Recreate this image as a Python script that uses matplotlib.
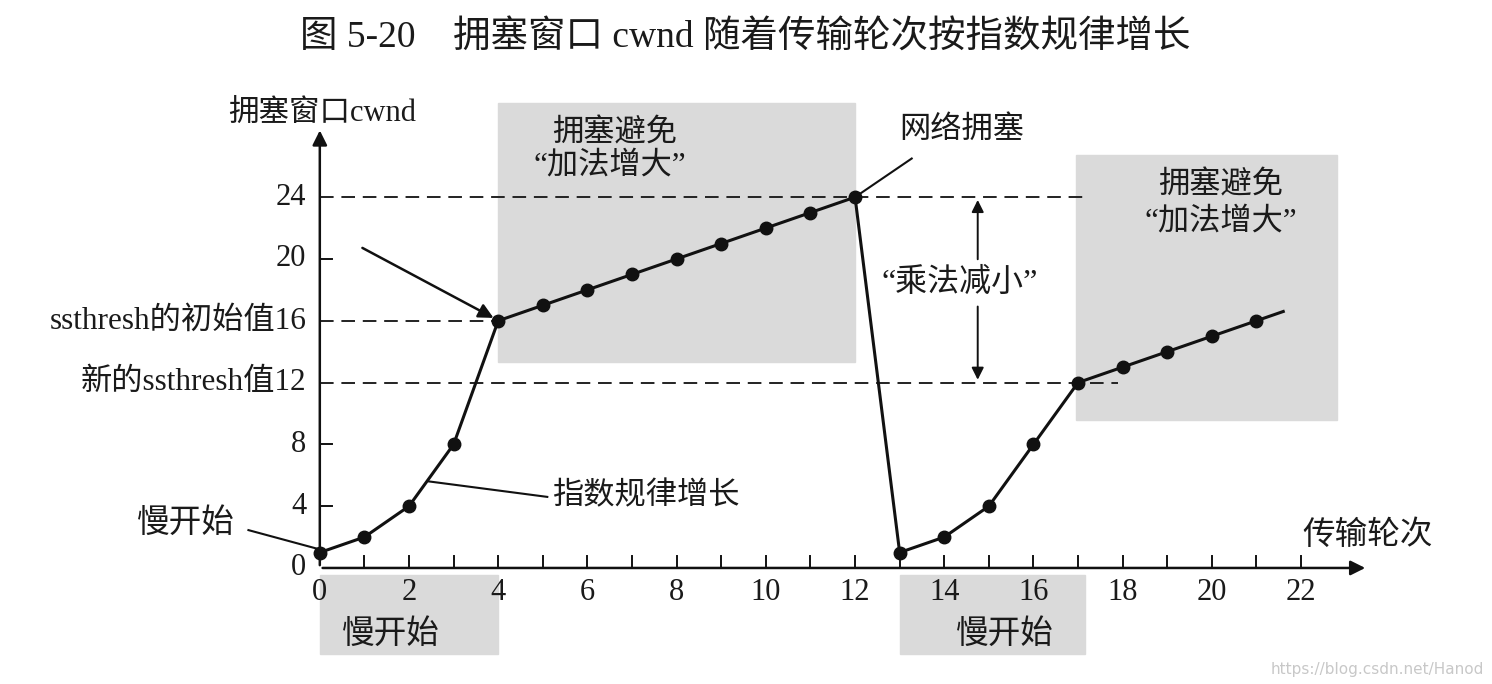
import numpy as np
import matplotlib
matplotlib.use("Agg")
import matplotlib.pyplot as plt

plt.rcParams['font.family'] = ['Liberation Serif', 'Noto Sans CJK SC', 'DejaVu Sans']
plt.rcParams['text.color'] = "#1a1a1a"

# transmission rounds and cwnd values
rounds_1 = [0, 1, 2, 3, 4, 5, 6, 7, 8, 9, 10, 11, 12]
cwnd_1 = [1, 2, 4, 8, 16, 17, 18, 19, 20, 21, 22, 23, 24]
rounds_2 = [13, 14, 15, 16, 17, 18, 19, 20, 21]
cwnd_2 = [1, 2, 4, 8, 12, 13, 14, 15, 16]
tail_x, tail_y = 21.6, 16.6

x_ticks = [0, 2, 4, 6, 8, 10, 12, 14, 16, 18, 20, 22]
y_ticks = [0, 4, 8, 20, 24]
y_labels = ["0", "4", "8", "20", "24"]
ssthresh_init = 16
ssthresh_new = 12
peak = 24

fig = plt.figure(figsize=(14.92, 6.84), dpi=100)
ax = fig.add_axes([0, 0, 1, 1])
ax.set_xlim(-7.17, 26.28)
ax.set_ylim(-7.51, 36.76)
ax.axis("off")

box_c = "#dadada"
# shaded phases
ax.add_patch(plt.Rectangle((4, 13.3), 8, 16.8, color=box_c, zorder=0))
ax.add_patch(plt.Rectangle((16.95, 9.6), 5.85, 17.1, color=box_c, zorder=0))
ax.add_patch(plt.Rectangle((0, -5.6), 4, 5.15, color=box_c, zorder=0))
ax.add_patch(plt.Rectangle((13, -5.6), 4.15, 5.15, color=box_c, zorder=0))

# axes with arrows
ax.annotate("", xy=(23.5, 0), xytext=(0, 0),
            arrowprops=dict(arrowstyle="-|>", color="#111111", lw=1.8, mutation_scale=22))
ax.annotate("", xy=(0, 28.5), xytext=(0, 0),
            arrowprops=dict(arrowstyle="-|>", color="#111111", lw=1.8, mutation_scale=22))

for i in range(1, 23):
    ax.plot([i, i], [0, 0.8], color="#111111", lw=1.4)
for t, lab in zip(y_ticks, y_labels):
    if t not in (0, 24):
        ax.plot([0, 0.28], [t, t], color="#111111", lw=1.4)
    ax.text(-0.3, t, lab, ha="right", va="center", fontsize=22)
for t in x_ticks:
    ax.text(t, -1.6, str(t), ha="center", va="center", fontsize=22)

# dashed reference lines
dash = (0, (7, 4))
ax.plot([0, 17.1], [peak, peak], ls=dash, color="#222222", lw=1.4)
ax.plot([0, 4], [ssthresh_init, ssthresh_init], ls=dash, color="#222222", lw=1.4)
ax.plot([0, 17.9], [ssthresh_new, ssthresh_new], ls=dash, color="#222222", lw=1.4)

ax.text(-0.3, ssthresh_init, "ssthresh的初始值16", ha="right", va="center", fontsize=22.5)
ax.text(-0.3, ssthresh_new, "新的ssthresh值12", ha="right", va="center", fontsize=22.5)

# cwnd curve
xs = rounds_1 + rounds_2 + [tail_x]
ys = cwnd_1 + cwnd_2 + [tail_y]
ax.plot(xs, ys, color="#111111", lw=2.2, zorder=3)
ax.plot(rounds_1 + rounds_2, cwnd_1 + cwnd_2, "o", color="#111111", ms=9, zorder=4)

# labels
ax.text(9.53, 34.3, "图 5-20    拥塞窗口 cwnd 随着传输轮次按指数规律增长",
        ha="center", va="center", fontsize=27)
ax.text(0.05, 29.4, "拥塞窗口cwnd", ha="center", va="center", fontsize=22)
ax.text(23.5, 2.1, "传输轮次", ha="center", va="center", fontsize=23.5)

ax.text(6.6, 28.1, "拥塞避免", ha="center", va="center", fontsize=22.5)
ax.text(6.5, 26.0, "“加法增大”", ha="center", va="center", fontsize=22.5)
ax.text(20.2, 24.7, "拥塞避免", ha="center", va="center", fontsize=22.5)
ax.text(20.2, 22.4, "“加法增大”", ha="center", va="center", fontsize=22.5)
ax.text(1.6, -4.3, "慢开始", ha="center", va="center", fontsize=23.5)
ax.text(15.35, -4.3, "慢开始", ha="center", va="center", fontsize=23.5)

ax.text(-3.0, 2.85, "慢开始", ha="center", va="center", fontsize=23.5)
ax.plot([-1.6, 0], [2.45, 1.2], color="#111111", lw=1.5)

ax.text(7.3, 4.6, "指数规律增长", ha="center", va="center", fontsize=22.5)
ax.plot([5.1, 2.45], [4.6, 5.6], color="#111111", lw=1.5)

ax.annotate("", xy=(3.95, 16.1), xytext=(0.9, 20.8),
            arrowprops=dict(arrowstyle="-|>", color="#111111", lw=1.8, mutation_scale=22))

ax.text(14.4, 28.35, "网络拥塞", ha="center", va="center", fontsize=22.5)
ax.plot([13.27, 12.05], [26.5, 24.1], color="#111111", lw=1.5)

ax.text(14.35, 18.45, "“乘法减小”", ha="center", va="center", fontsize=23)
ax.annotate("", xy=(14.75, peak), xytext=(14.75, 19.8),
            arrowprops=dict(arrowstyle="-|>", color="#111111", lw=1.4, mutation_scale=18))
ax.annotate("", xy=(14.75, ssthresh_new), xytext=(14.75, 17.1),
            arrowprops=dict(arrowstyle="-|>", color="#111111", lw=1.4, mutation_scale=18))

ax.text(26.1, -6.6, "https://blog.csdn.net/Hanod", ha="right", va="center",
        fontsize=11, color="#c8c8c8", family=["DejaVu Sans"])

fig.savefig("out.png", dpi=100)
